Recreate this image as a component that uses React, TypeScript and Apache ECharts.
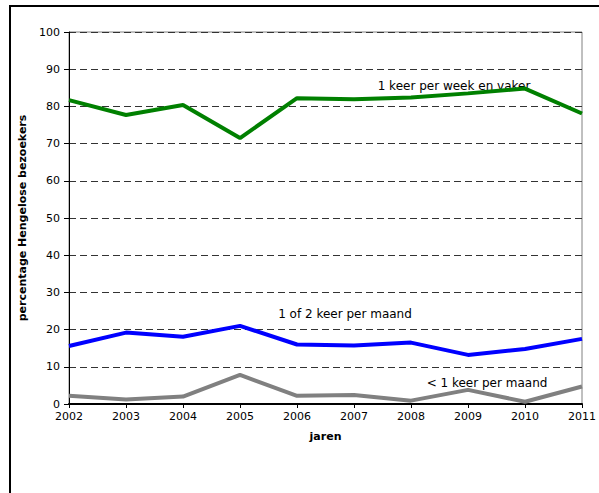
import React, { useEffect, useRef } from "react";
import * as echarts from "echarts";

const years = ["2002", "2003", "2004", "2005", "2006", "2007", "2008", "2009", "2010", "2011"];
const weekly = [81.7, 77.7, 80.4, 71.5, 82.2, 81.9, 82.4, 83.5, 84.8, 78.1];
const monthly = [15.6, 19.2, 18.1, 21.0, 16.0, 15.7, 16.5, 13.2, 14.8, 17.5];
const lessMonthly = [2.2, 1.2, 2.0, 7.8, 2.2, 2.4, 0.9, 3.8, 0.6, 4.7];
const seriesNames = ["1 keer per week en vaker", "1 of 2 keer per maand", "< 1 keer per maand"];
const yTicks = [0, 10, 20, 30, 40, 50, 60, 70, 80, 90, 100];

const FONT = "DejaVu Sans";

export default function App() {
  const ref = useRef<HTMLDivElement>(null);
  useEffect(() => {
    if (!ref.current) return;
    const chart = echarts.init(ref.current, null, { renderer: "svg" });
    chart.setOption({
      animation: false,
      backgroundColor: "#ffffff",
      textStyle: { fontFamily: FONT },
      grid: {
        left: 69,
        right: 14,
        top: 32,
        bottom: 89,
        show: true,
        borderColor: "#808080",
        borderWidth: 1,
      },
      xAxis: {
        type: "category",
        data: years,
        boundaryGap: false,
        name: "jaren",
        nameLocation: "middle",
        nameGap: 27,
        nameTextStyle: { fontFamily: FONT, fontWeight: "bold", fontSize: 11, color: "#000" },
        axisLine: { lineStyle: { color: "#000", width: 2 } },
        axisTick: { show: true, length: 4, alignWithLabel: true, lineStyle: { color: "#000" } },
        axisLabel: { fontFamily: FONT, fontSize: 11, color: "#000", margin: 7 },
        splitLine: { show: false },
      },
      yAxis: {
        type: "value",
        min: yTicks[0],
        max: yTicks[yTicks.length - 1],
        interval: 10,
        name: "percentage Hengelose bezoekers",
        nameLocation: "middle",
        nameGap: 40,
        nameTextStyle: { fontFamily: FONT, fontWeight: "bold", fontSize: 11, color: "#000" },
        axisLine: { show: true, lineStyle: { color: "#000", width: 1 } },
        axisTick: { show: true, length: 5, lineStyle: { color: "#000" } },
        axisLabel: { fontFamily: FONT, fontSize: 11, color: "#000", margin: 9 },
        splitLine: { show: true, lineStyle: { color: "#333", type: [7, 4], width: 1 } },
      },
      series: [
        {
          name: seriesNames[0],
          type: "line",
          data: weekly,
          symbol: "none",
          lineStyle: { color: "#008000", width: 4 },
          z: 5,
        },
        {
          name: seriesNames[1],
          type: "line",
          data: monthly,
          symbol: "none",
          lineStyle: { color: "#0000ff", width: 4 },
          z: 5,
        },
        {
          name: seriesNames[2],
          type: "line",
          data: lessMonthly,
          symbol: "none",
          lineStyle: { color: "#808080", width: 4 },
          z: 5,
        },
      ],
      graphic: [
        {
          type: "rect",
          shape: { x: 10, y: 6, width: 620, height: 520 },
          style: { fill: "none", stroke: "#000", lineWidth: 2 },
          silent: true,
          z: 0,
        },
        {
          type: "text",
          left: 8,
          top: -17,
          style: {
            text: "Figuur 1: Bezoekfrequentie weekmarkt per jaar, Hengelose bezoekers",
            font: "italic bold 15px DejaVu Sans",
            fill: "#000",
          },
          z: 10,
        },
        {
          type: "text",
          x: 454,
          y: 86,
          style: {
            text: seriesNames[0],
            font: "12px DejaVu Sans",
            fill: "#000",
            align: "center",
            verticalAlign: "middle",
          },
          z: 4,
        },
        {
          type: "text",
          x: 345,
          y: 314,
          style: {
            text: seriesNames[1],
            font: "12px DejaVu Sans",
            fill: "#000",
            align: "center",
            verticalAlign: "middle",
          },
          z: 4,
        },
        {
          type: "text",
          x: 487,
          y: 383,
          style: {
            text: seriesNames[2],
            font: "12px DejaVu Sans",
            fill: "#000",
            align: "center",
            verticalAlign: "middle",
          },
          z: 4,
        },
      ],
    });
    return () => chart.dispose();
  }, []);
  return (
    <div
      ref={ref}
      style={{ position: "absolute", left: 0, top: 0, width: 599, height: 493 }}
    />
  );
}
